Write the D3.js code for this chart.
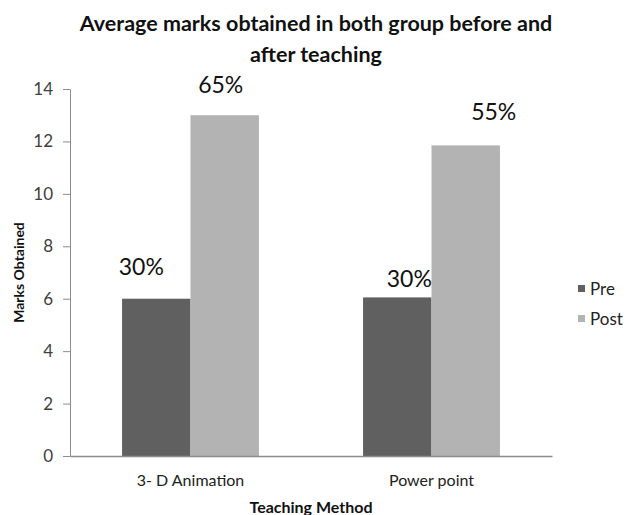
<!DOCTYPE html>
<html>
<head>
<meta charset="utf-8">
<script src="https://cdn.jsdelivr.net/npm/d3@7"></script>
<style>
  body { margin: 0; background: #fff; }
  svg { display: block; font-family: Lato, "Open Sans", sans-serif; }
</style>
</head>
<body>
<div id="grafico"></div>
<script>
// dados
const categorias = ["3- D Animation", "Power point"];
const series = ["Pre", "Post"];
const valoresPre = [6, 6.05];
const valoresPost = [13, 11.85];
const rotulosPre = ["30%", "30%"];
const rotulosPost = ["65%", "55%"];
const ticksY = [0, 2, 4, 6, 8, 10, 12, 14];

const cores = { Pre: "#606060", Post: "#b3b3b3" };

// deslocamento manual dos rotulos (como no original)
const ajusteRotulo = {
    Pre: [{ dx: -15, dy: -24 }, { dx: 12, dy: -10 }],
    Post: [{ dx: -4, dy: -22 }, { dx: 28, dy: -25 }]
};

const largura = 627;
const altura = 515;
const esq = 70, dir = 552, topo = 89, base = 456;

const svg = d3.select("#grafico")
    .append("svg")
    .attr("width", largura)
    .attr("height", altura);

const x = d3.scaleBand()
    .domain(categorias)
    .range([esq, dir])
    .paddingInner(0.432)
    .paddingOuter(0.216);

const xSub = d3.scaleBand()
    .domain(series)
    .range([0, x.bandwidth()]);

const y = d3.scaleLinear()
    .domain([0, 14])
    .range([base, topo]);

// linhas dos dados
const linhas = categorias.map((c, i) => ({
    categoria: c,
    valores: [
        { serie: "Pre", valor: valoresPre[i], rotulo: rotulosPre[i], aj: ajusteRotulo.Pre[i] },
        { serie: "Post", valor: valoresPost[i], rotulo: rotulosPost[i], aj: ajusteRotulo.Post[i] }
    ]
}));

// eixo Y
const eixoY = svg.append("g")
    .attr("transform", `translate(${esq},0)`)
    .call(d3.axisLeft(y).tickValues(ticksY).tickSize(7).tickSizeOuter(0).tickPadding(10));
eixoY.select(".domain").attr("stroke", "#8c8c8c");
eixoY.selectAll(".tick line").attr("stroke", "#8c8c8c");
eixoY.selectAll(".tick text")
    .attr("fill", "#404040")
    .style("font-size", "17px")
    .style("font-family", "Lato, sans-serif");

// barras
const grupos = svg.selectAll(".grupo")
    .data(linhas)
    .enter()
    .append("g")
    .attr("class", "grupo")
    .attr("transform", d => `translate(${x(d.categoria)},0)`);

grupos.selectAll("rect")
    .data(d => d.valores)
    .enter()
    .append("rect")
    .attr("x", d => xSub(d.serie))
    .attr("width", xSub.bandwidth())
    .attr("y", d => y(d.valor))
    .attr("height", d => base - y(d.valor))
    .attr("fill", d => cores[d.serie]);

// rotulos das barras
grupos.selectAll(".rotulo")
    .data(d => d.valores)
    .enter()
    .append("text")
    .attr("class", "rotulo")
    .text(d => d.rotulo)
    .attr("x", d => xSub(d.serie) + xSub.bandwidth() / 2 + d.aj.dx)
    .attr("y", d => y(d.valor) + d.aj.dy)
    .attr("text-anchor", "middle")
    .attr("fill", "#111")
    .style("font-size", "23px");

// eixo X
const eixoX = svg.append("g")
    .attr("transform", `translate(0,${base})`)
    .call(d3.axisBottom(x).tickSize(0).tickPadding(19));
eixoX.select(".domain").attr("stroke", "#8c8c8c").attr("stroke-width", 1.5);
eixoX.selectAll(".tick text")
    .attr("fill", "#222")
    .style("font-size", "16px")
    .style("font-family", "Lato, sans-serif");

// titulos dos eixos
svg.append("text")
    .attr("x", (esq + dir) / 2)
    .attr("y", 513)
    .attr("text-anchor", "middle")
    .attr("fill", "#111")
    .style("font-size", "16px")
    .style("font-weight", "bold")
    .text("Teaching Method");

svg.append("text")
    .attr("transform", `translate(24,${(topo + base) / 2}) rotate(-90)`)
    .attr("text-anchor", "middle")
    .attr("fill", "#111")
    .style("font-size", "14px")
    .style("font-weight", "bold")
    .text("Marks Obtained");

// titulo do grafico
const titulo = svg.append("text")
    .attr("text-anchor", "middle")
    .attr("fill", "#111")
    .style("font-size", "21.5px")
    .style("font-weight", "bold");
titulo.append("tspan").attr("x", 316).attr("y", 31)
    .text("Average marks obtained in both group before and");
titulo.append("tspan").attr("x", 316).attr("y", 62)
    .text("after teaching");

// legenda
const legenda = svg.selectAll(".legenda")
    .data(series)
    .enter()
    .append("g")
    .attr("class", "legenda")
    .attr("transform", (d, i) => `translate(578,${285 + i * 30})`);
legenda.append("rect")
    .attr("width", 7)
    .attr("height", 7)
    .attr("fill", d => cores[d]);
legenda.append("text")
    .attr("x", 12)
    .attr("y", 10)
    .attr("fill", "#222")
    .style("font-size", "17px")
    .text(d => d);
</script>
</body>
</html>
